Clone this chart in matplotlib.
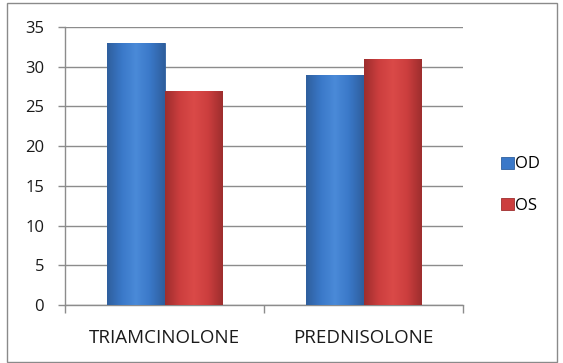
import numpy as np
import matplotlib
matplotlib.use("Agg")
import matplotlib.pyplot as plt
from matplotlib.patches import Rectangle
from matplotlib.colors import LinearSegmentedColormap

categories = ["TRIAMCINOLONE", "PREDNISOLONE"]
series_names = ["OD", "OS"]
od_values = [33, 29]
os_values = [27, 31]
y_ticks = [0, 5, 10, 15, 20, 25, 30, 35]

plt.rcParams["font.family"] = ["Open Sans", "DejaVu Sans"]

fig = plt.figure(figsize=(5.63, 3.63), dpi=100, facecolor="white")
ax = fig.add_axes([65 / 563, 58 / 363, 398 / 563, 278 / 363])

# outer frame of the chart
fig.patches.append(Rectangle((7 / 563, 1 / 363), 550 / 563, 359 / 363,
                             transform=fig.transFigure, fill=False,
                             edgecolor="#8a8a8a", linewidth=1.0))

grid_col = "#8c8c8c"
text_col = "#1a1a1a"
bar_w = 0.29
x = np.arange(len(categories))


def shaded_bar(xc, h, base, light, dark):
    # bar with a soft horizontal shading like the office bevel
    cmap = LinearSegmentedColormap.from_list("b", [dark, base, light, base, dark])
    grad = np.linspace(0, 1, 64).reshape(1, -1)
    rect = Rectangle((xc - bar_w / 2, 0), bar_w, h, facecolor=base,
                     edgecolor=dark, linewidth=0.6, zorder=3)
    ax.add_patch(rect)
    im = ax.imshow(grad, cmap=cmap, aspect="auto", zorder=3.1,
                   extent=(xc - bar_w / 2, xc + bar_w / 2, 0, h))
    im.set_clip_path(rect)


for i in x:
    shaded_bar(i - bar_w / 2, od_values[i], "#3a78c8", "#4a8ad8", "#2f5f9e")
    shaded_bar(i + bar_w / 2, os_values[i], "#cc3e3e", "#da4a48", "#9e2e2e")

ax.set_xlim(-0.5, len(categories) - 0.5)
ax.set_ylim(0, 35)
ax.set_yticks(y_ticks)
ax.yaxis.grid(True, color=grid_col, linewidth=1.0, zorder=0)
ax.set_axisbelow(True)

ax.set_xticks(x)
ax.set_xticklabels(categories, fontsize=13.5, color=text_col)
ax.set_xticks([-0.5, 0.5, 1.5], minor=True)
ax.tick_params(axis="x", which="major", length=0, pad=17)
ax.tick_params(axis="x", which="minor", length=6, color=grid_col, width=1.0)
ax.tick_params(axis="y", length=5, color=grid_col, width=1.0,
               labelsize=12, labelcolor=text_col, pad=10)

for side in ["top", "right"]:
    ax.spines[side].set_visible(False)
for side in ["left", "bottom"]:
    ax.spines[side].set_color(grid_col)
    ax.spines[side].set_linewidth(1.0)

handles = [Rectangle((0, 0), 1, 1, facecolor=c, edgecolor=e, linewidth=0.6)
           for c, e in [("#3a78c8", "#2f5f9e"), ("#cc3e3e", "#9e2e2e")]]
fig.legend(handles, series_names, loc="center left",
           bbox_to_anchor=(486 / 563, 178 / 363), frameon=False,
           handlelength=0.75, handleheight=0.75,
           handletextpad=0.1, labelspacing=1.5, prop={"size": 12})

fig.savefig("out.png", dpi=100, facecolor="white")
